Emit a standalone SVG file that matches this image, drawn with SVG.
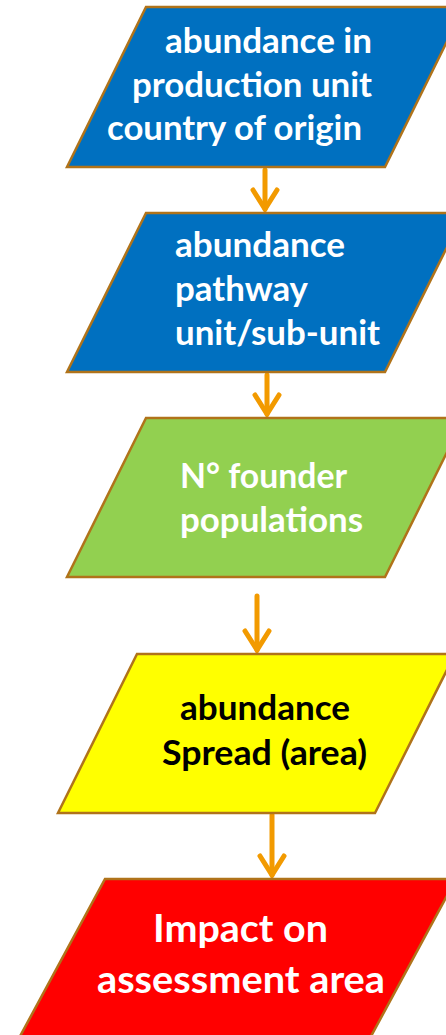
<svg xmlns="http://www.w3.org/2000/svg" width="446" height="1035" viewBox="0 0 446 1035">
<style>
.box{stroke:#B0731A;stroke-width:2.5;stroke-linejoin:miter}
.t{font-family:Lato,"Liberation Sans",sans-serif;font-weight:bold;font-size:35px;fill:#FFFFFF}
.t5{font-size:38px}
.dark{fill:#000000}
.conn{stroke:#F29A00;stroke-width:5;fill:none;stroke-linecap:round}
</style>
<defs>
<marker id="arr" markerUnits="userSpaceOnUse" markerWidth="30" markerHeight="30" refX="0" refY="0" orient="auto" overflow="visible" viewBox="-25 -15 30 30">
<path d="M-19,-12 L0,0 L-19,12" fill="none" stroke="#F29A00" stroke-width="5" stroke-linecap="round" stroke-linejoin="miter"/>
</marker>
</defs>
<rect width="446" height="1035" fill="#FFFFFF"/>
<g id="connectors">
<line class="conn" x1="265" y1="170" x2="265" y2="209" marker-end="url(#arr)"/>
<line class="conn" x1="267" y1="375" x2="267" y2="414" marker-end="url(#arr)"/>
<line class="conn" x1="257" y1="596" x2="257" y2="650" marker-end="url(#arr)"/>
<line class="conn" x1="272" y1="815" x2="272" y2="875" marker-end="url(#arr)"/>
</g>
<g id="node1">
<polygon class="box" fill="#0070C0" points="146,7 464,7 385,167 67,167"/>
<text class="t" x="165" y="53" textLength="207" lengthAdjust="spacingAndGlyphs">abundance in</text>
<text class="t" x="132" y="97" textLength="240" lengthAdjust="spacingAndGlyphs">production unit</text>
<text class="t" x="107" y="140" textLength="255" lengthAdjust="spacingAndGlyphs">country of origin</text>
</g>
<g id="node2">
<polygon class="box" fill="#0070C0" points="146,213 464,213 385,372 67,372"/>
<text class="t" x="175" y="257" textLength="170" lengthAdjust="spacingAndGlyphs">abundance</text>
<text class="t" x="175" y="301" textLength="133" lengthAdjust="spacingAndGlyphs">pathway</text>
<text class="t" x="175" y="345" textLength="205" lengthAdjust="spacingAndGlyphs">unit/sub-unit</text>
</g>
<g id="node3">
<polygon class="box" fill="#92D050" points="146,418 464,418 385,577 67,577"/>
<text class="t" x="180" y="488" textLength="167" lengthAdjust="spacingAndGlyphs">N° founder</text>
<text class="t" x="180" y="532" textLength="183" lengthAdjust="spacingAndGlyphs">populations</text>
</g>
<g id="node4">
<polygon class="box" fill="#FFFF00" points="137,654 455,654 375,813 58,813"/>
<text class="t dark" x="180" y="720" textLength="170" lengthAdjust="spacingAndGlyphs">abundance</text>
<text class="t dark" x="162" y="765" textLength="205" lengthAdjust="spacingAndGlyphs">Spread (area)</text>
</g>
<g id="node5">
<polygon class="box" fill="#FF0000" points="105,879 456,879 369,1040 18,1040"/>
<text class="t t5" x="153" y="942" textLength="175" lengthAdjust="spacingAndGlyphs">Impact on</text>
<text class="t t5" x="97" y="993" textLength="288" lengthAdjust="spacingAndGlyphs">assessment area</text>
</g>
</svg>
